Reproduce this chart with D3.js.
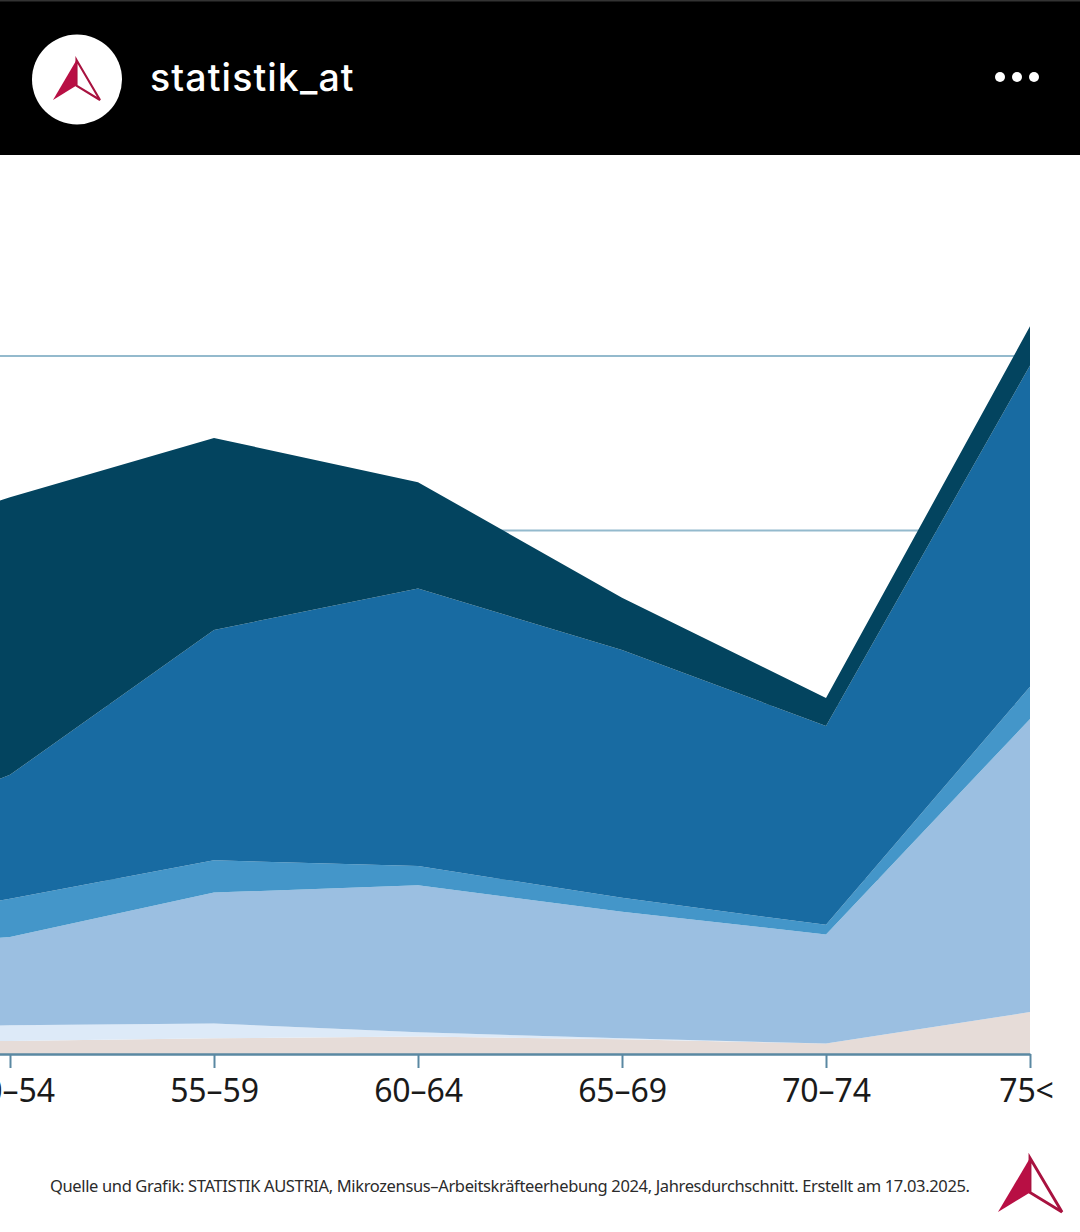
<!DOCTYPE html>
<html>
<head>
<meta charset="utf-8">
<script src="https://cdn.jsdelivr.net/npm/d3@7"></script>
<style>
  html, body { margin: 0; padding: 0; background: #fff; overflow: hidden; }
  svg { display: block; }
</style>
</head>
<body>
<div id="chart"></div>
<script>
// values (percent); the 45-49 column sits outside the crop
const categories = ["45–49", "50–54", "55–59", "60–64", "65–69", "70–74", "75<"];
const layerA = [0.6, 0.75, 0.9, 1.0, 0.85, 0.6, 2.4];
const layerB = [0.75, 0.9, 0.85, 0.25, 0.05, 0, 0];
const layerC = [4.6, 5.05, 7.5, 8.42, 7.25, 6.25, 16.8];
const layerD = [0.9, 2.2, 1.85, 1.1, 0.8, 0.55, 1.85];
const layerE = [4.4, 7.1, 13.2, 15.9, 14.2, 11.4, 18.4];
const layerF = [17.1, 15.9, 11, 6.1, 3.0, 1.6, 2.25];
const gridValues = [10, 20, 30, 40];

const layerColors = ["#e6dcd8", "#ddeaf8", "#9bbfe1", "#4496c9", "#186ba2", "#03445f"];
const layers = [layerA, layerB, layerC, layerD, layerE, layerF];

const width = 1080;
const height = 1232;

const svg = d3.select("#chart")
  .append("svg")
    .attr("width", width)
    .attr("height", height)
    .attr("viewBox", `0 0 ${width} ${height}`);

const x = d3.scalePoint()
  .domain(categories)
  .range([-194, 1030]);

const y = d3.scaleLinear()
  .domain([0, 40])
  .range([1054, 356]);

// grid lines sit under the areas
svg.append("g")
  .selectAll("line")
  .data(gridValues)
  .join("line")
    .attr("x1", 0)
    .attr("x2", 1030)
    .attr("y1", d => y(d))
    .attr("y2", d => y(d))
    .attr("stroke", "#94bacd")
    .attr("stroke-width", 2);

// stacked areas
const table = categories.map((c, i) => {
  const row = { category: c };
  layers.forEach((l, k) => { row[k] = l[i]; });
  return row;
});

const stacked = d3.stack().keys(layers.map((l, k) => k))(table);

const area = d3.area()
  .x(d => x(d.data.category))
  .y0(d => y(d[0]))
  .y1(d => y(d[1]));

svg.append("g")
  .selectAll("path")
  .data(stacked)
  .join("path")
    .attr("d", area)
    .attr("fill", d => layerColors[d.key]);

// x axis
const xAxis = svg.append("g")
  .attr("transform", `translate(0, ${y(0)})`)
  .call(d3.axisBottom(x).tickSizeInner(14).tickSizeOuter(0).tickPadding(11));

xAxis.select(".domain")
  .attr("stroke", "#5a88a2")
  .attr("stroke-width", 2.5);
xAxis.selectAll(".tick line")
  .attr("stroke", "#5a88a2")
  .attr("stroke-width", 2);
xAxis.selectAll(".tick text")
  .attr("fill", "#1a1a1a")
  .attr("dx", d => d === "75<" ? -4 : 0)
  .style("font-family", "'Noto Sans', sans-serif")
  .style("font-size", "32px")
  .style("letter-spacing", "-0.1px");

// instagram style header
const header = svg.append("g");
header.append("rect")
  .attr("width", width)
  .attr("height", 155)
  .attr("fill", "#000");
header.append("rect")
  .attr("width", width)
  .attr("height", 1.5)
  .attr("fill", "#333");
header.append("circle")
  .attr("cx", 77)
  .attr("cy", 79.5)
  .attr("r", 45)
  .attr("fill", "#fff");
header.append("text")
  .attr("x", 150)
  .attr("y", 91)
  .attr("fill", "#fff")
  .style("font-family", "Inter, sans-serif")
  .style("font-size", "37.5px")
  .style("font-weight", 500)
  .style("letter-spacing", "1.1px")
  .text("statistik_at");
header.selectAll(".dot")
  .data([1000, 1017, 1034])
  .join("circle")
    .attr("class", "dot")
    .attr("cx", d => d)
    .attr("cy", 77)
    .attr("r", 5)
    .attr("fill", "#fff");

// arrow logo, w/h are the size of the whole mark
const drawLogo = (cx, top, w, h) => {
  const g = svg.append("g");
  const apex = [cx, top];
  const left = [cx - w / 2, top + h];
  const right = [cx + w / 2, top + h];
  const notch = [cx, top + h * 0.64];
  g.append("path")
    .attr("d", d3.line()([apex, right, notch]) + "Z")
    .attr("fill", "#fff")
    .attr("stroke", "#a8123f")
    .attr("stroke-width", w * 0.045)
    .attr("stroke-linejoin", "miter");
  g.append("path")
    .attr("d", d3.line()([apex, left, notch]) + "Z")
    .attr("fill", "#b80f44");
};

drawLogo(76.5, 60, 47, 40);
drawLogo(1030, 1158, 64, 54);

svg.append("text")
  .attr("x", 50)
  .attr("y", 1192)
  .attr("fill", "#2b2b2b")
  .style("font-family", "'Noto Sans', sans-serif")
  .style("font-size", "16.5px")
  .attr("textLength", 920)
  .attr("lengthAdjust", "spacing")
  .text("Quelle und Grafik: STATISTIK AUSTRIA, Mikrozensus–Arbeitskräfteerhebung 2024, Jahresdurchschnitt. Erstellt am 17.03.2025.");
</script>
</body>
</html>
